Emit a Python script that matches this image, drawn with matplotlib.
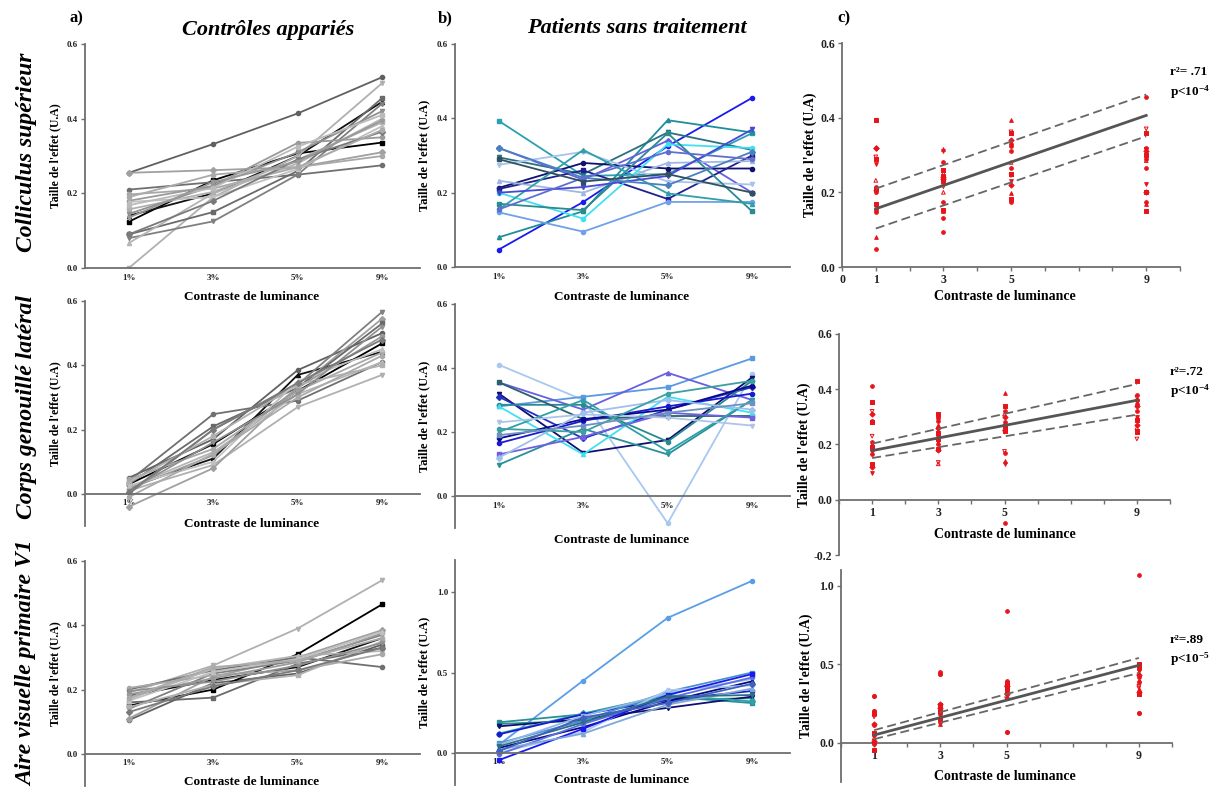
import matplotlib
matplotlib.use('Agg')
import matplotlib.pyplot as plt
from matplotlib.ticker import MultipleLocator

plt.rcParams['font.family'] = ['Liberation Serif', 'DejaVu Serif']
plt.rcParams['font.weight'] = 'bold'
plt.rcParams['mathtext.fontset'] = 'custom'
plt.rcParams['mathtext.rm'] = 'Liberation Serif:bold'
plt.rcParams['mathtext.it'] = 'Liberation Serif:bold'

# ── DATA ─────────────────────────────────────────────
contrasts = ['1%', '3%', '5%', '9%']
contrast_num = [1, 3, 5, 9]

# controls, colliculus (one row per subject: 1%, 3%, 5%, 9%)
ctrl_sc = [
    [0.255, 0.332, 0.414, 0.511],
    [0.124, 0.235, 0.307, 0.336],
    [0.140, 0.200, 0.300, 0.445],
    [0.000, 0.190, 0.300, 0.495],
    [0.255, 0.262, 0.270, 0.310],
    [0.210, 0.230, 0.250, 0.275],
    [0.090, 0.150, 0.260, 0.455],
    [0.080, 0.125, 0.250, 0.440],
    [0.067, 0.200, 0.280, 0.400],
    [0.197, 0.213, 0.270, 0.300],
    [0.180, 0.220, 0.335, 0.350],
    [0.157, 0.204, 0.290, 0.390],
    [0.177, 0.190, 0.265, 0.380],
    [0.145, 0.220, 0.310, 0.420],
    [0.090, 0.180, 0.290, 0.365],
    [0.190, 0.250, 0.270, 0.370],
    [0.168, 0.215, 0.325, 0.410],
    [0.135, 0.230, 0.285, 0.395],
]
ctrl_cgl = [
    [0.050, 0.170, 0.385, 0.500],
    [0.030, 0.155, 0.320, 0.468],
    [0.020, 0.110, 0.370, 0.442],
    [0.010, 0.090, 0.270, 0.370],
    [-0.040, 0.080, 0.330, 0.545],
    [0.040, 0.248, 0.290, 0.410],
    [0.030, 0.210, 0.330, 0.530],
    [0.000, 0.200, 0.340, 0.566],
    [0.020, 0.130, 0.310, 0.410],
    [0.045, 0.140, 0.320, 0.440],
    [0.015, 0.120, 0.330, 0.490],
    [0.035, 0.180, 0.340, 0.400],
    [0.025, 0.100, 0.350, 0.450],
    [0.010, 0.160, 0.310, 0.520],
    [0.005, 0.200, 0.345, 0.480],
    [-0.010, 0.125, 0.300, 0.430],
]
ctrl_v1 = [
    [0.105, 0.220, 0.250, 0.340],
    [0.150, 0.200, 0.310, 0.465],
    [0.180, 0.230, 0.270, 0.360],
    [0.190, 0.275, 0.390, 0.540],
    [0.110, 0.240, 0.300, 0.385],
    [0.200, 0.260, 0.300, 0.270],
    [0.160, 0.175, 0.280, 0.330],
    [0.140, 0.250, 0.290, 0.370],
    [0.170, 0.265, 0.305, 0.320],
    [0.205, 0.245, 0.260, 0.310],
    [0.185, 0.235, 0.285, 0.375],
    [0.145, 0.215, 0.245, 0.350],
    [0.165, 0.255, 0.295, 0.380],
    [0.195, 0.225, 0.275, 0.345],
    [0.130, 0.210, 0.260, 0.330],
    [0.175, 0.270, 0.290, 0.360],
]

# untreated patients
pat_sc = [
    [0.047, 0.175, 0.325, 0.455],
    [0.393, 0.245, 0.250, 0.360],
    [0.080, 0.150, 0.395, 0.362],
    [0.295, 0.250, 0.362, 0.315],
    [0.320, 0.235, 0.340, 0.200],
    [0.213, 0.280, 0.265, 0.265],
    [0.210, 0.260, 0.183, 0.300],
    [0.275, 0.310, 0.230, 0.222],
    [0.232, 0.200, 0.280, 0.285],
    [0.200, 0.130, 0.330, 0.320],
    [0.147, 0.095, 0.175, 0.175],
    [0.170, 0.153, 0.360, 0.150],
    [0.155, 0.315, 0.198, 0.170],
    [0.200, 0.215, 0.245, 0.370],
    [0.320, 0.240, 0.220, 0.310],
    [0.155, 0.240, 0.310, 0.290],
    [0.290, 0.230, 0.250, 0.200],
]
pat_cgl = [
    [0.410, 0.300, -0.085, 0.380],
    [0.280, 0.310, 0.340, 0.430],
    [0.355, 0.270, 0.385, 0.300],
    [0.320, 0.135, 0.175, 0.370],
    [0.310, 0.180, 0.270, 0.340],
    [0.285, 0.285, 0.170, 0.360],
    [0.355, 0.240, 0.250, 0.250],
    [0.098, 0.210, 0.130, 0.300],
    [0.280, 0.130, 0.310, 0.260],
    [0.165, 0.235, 0.280, 0.320],
    [0.180, 0.240, 0.270, 0.345],
    [0.130, 0.185, 0.260, 0.245],
    [0.200, 0.300, 0.140, 0.300],
    [0.230, 0.255, 0.245, 0.220],
    [0.120, 0.260, 0.300, 0.270],
    [0.210, 0.200, 0.320, 0.360],
    [0.190, 0.220, 0.260, 0.290],
]
pat_v1 = [
    [0.050, 0.450, 0.840, 1.070],
    [0.190, 0.240, 0.350, 0.310],
    [0.180, 0.200, 0.330, 0.340],
    [0.165, 0.210, 0.280, 0.350],
    [0.120, 0.245, 0.360, 0.320],
    [0.115, 0.240, 0.330, 0.385],
    [0.060, 0.200, 0.380, 0.500],
    [0.050, 0.230, 0.370, 0.460],
    [0.030, 0.160, 0.320, 0.445],
    [0.000, 0.130, 0.390, 0.420],
    [-0.010, 0.180, 0.340, 0.470],
    [-0.045, 0.150, 0.360, 0.490],
    [0.020, 0.120, 0.300, 0.400],
    [0.040, 0.190, 0.350, 0.360],
    [0.010, 0.220, 0.310, 0.430],
]
# extra points seen only in the V1 regression panel
v1_extra_x = [1, 1, 3, 5, 9]
v1_extra_y = [0.300, 0.200, 0.440, 0.070, 0.190]

# regression fits (value at x=1 and x=9)
fit_sc = [0.156, 0.406]
ci_hi_sc = [0.210, 0.462]
ci_lo_sc = [0.103, 0.350]
fit_cgl = [0.178, 0.360]
ci_hi_cgl = [0.203, 0.419]
ci_lo_cgl = [0.151, 0.308]
fit_v1 = [0.049, 0.493]
ci_hi_v1 = [0.080, 0.540]
ci_lo_v1 = [0.023, 0.444]

stats_text = [('r²= .71', r'p<10$^{-4}$'), ('r²=.72', r'p<10$^{-4}$'), ('r²=.89', r'p<10$^{-5}$')]
row_titles = ['Colliculus supérieur', 'Corps genouillé latéral', 'Aire visuelle primaire V1']

greys = ['#606060', '#000000', '#111111', '#b0b0b0', '#a0a0a0', '#707070', '#6a6a6a',
         '#808080', '#b5b5b5', '#a8a8a8', '#9a9a9a', '#b0b0b0', '#c0c0c0', '#909090',
         '#7a7a7a', '#aaaaaa', '#bbbbbb', '#999999']
blues_sc = ['#1a1aee', '#2aa0b0', '#1e8f9a', '#2a7080', '#6a5fe0', '#101070', '#202090',
            '#a8c4ec', '#9fb8e0', '#40e0f0', '#6fa0e8', '#2a8a90', '#30a0a8', '#4848d8',
            '#4a80c0', '#5f6fd0', '#305060']
blues_cgl = ['#a8c8f0', '#5a9ae0', '#6a5fe0', '#101070', '#2030c0', '#2a8a90', '#2a6070',
             '#2a9098', '#40e0f0', '#1a1ad0', '#0a0a90', '#7060e0', '#30a0a8', '#b0c4e8',
             '#9fc0ec', '#3aa0a0', '#7090c0']
blues_v1 = ['#5a9ee8', '#2a9098', '#2a8a90', '#101070', '#30a0a8', '#1a1ad0', '#4a90d0',
            '#8fb8e8', '#0a0a80', '#a8c8f0', '#6070e0', '#1a1aee', '#7fa8d8', '#2a7080',
            '#4060c0']
markers = ['o', 's', '^', 'v', 'D', 'o', 's', 'v', '^', 'o']

# ── LAYOUT ───────────────────────────────────────────
W, H = 1217, 791
fig = plt.figure(figsize=(W / 100, H / 100), dpi=100)


def box(l, t, r, b):
    return [l / W, 1 - b / H, (r - l) / W, (b - t) / H]


def ftext(x, y, s, **kw):
    fig.text(x / W, 1 - y / H, s, **kw)


SPINE = '#6e6e6e'


def style(ax, tick_fs):
    for side in ['top', 'right']:
        ax.spines[side].set_visible(False)
    for side in ['left', 'bottom']:
        ax.spines[side].set_color(SPINE)
        ax.spines[side].set_linewidth(1.3)
    ax.spines['bottom'].set_position(('data', 0))
    ax.tick_params(colors=SPINE, width=1.0, length=3, labelsize=tick_fs, labelcolor='#222222', pad=2)
    ax.patch.set_alpha(0)


def line_panel(ax, data, colors, ylim, yticks, fmt):
    for i, row in enumerate(data):
        ax.plot(range(4), row, color=colors[i % len(colors)], lw=1.3,
                marker=markers[i % len(markers)], ms=3)
    ax.set_xlim(-0.52, 3.45)
    ax.set_ylim(*ylim)
    ax.set_xticks(range(4))
    ax.set_xticklabels(contrasts)
    ax.set_yticks(yticks)
    ax.set_yticklabels([fmt.format(v) for v in yticks])
    style(ax, 6.5)
    ax.tick_params(axis='x', length=0, pad=4)


def reg_panel(ax, data, fit, hi, lo, ylim, yticks, xticks, extra=None):
    for i, row in enumerate(data):
        m = markers[i % len(markers)]
        hollow = i % 5 == 3
        ax.scatter(contrast_num, row, s=7, marker=m,
                   facecolors='none' if hollow else '#e8141a',
                   edgecolors='#e8141a', linewidths=0.7, zorder=3)
    if extra is not None:
        ax.scatter(extra[0], extra[1], s=7, marker='o', color='#e8141a', zorder=3)
    ends = [1, 9]
    ax.plot(ends, fit, color='#555555', lw=2.0, zorder=4)
    ax.plot(ends, hi, color='#666666', lw=1.3, ls=(0, (5, 2.5)), zorder=4)
    ax.plot(ends, lo, color='#666666', lw=1.3, ls=(0, (5, 2.5)), zorder=4)
    ax.set_xlim(0, 10)
    ax.set_ylim(*ylim)
    ax.set_xticks(xticks)
    ax.xaxis.set_minor_locator(MultipleLocator(1))
    ax.set_yticks(yticks)
    ax.set_yticklabels(['{:.1f}'.format(v) for v in yticks])
    style(ax, 8.5)
    ax.tick_params(axis='x', which='minor', length=3, color=SPINE, width=1.0)


# column a: controls
ax_a1 = fig.add_axes(box(85, 44, 420, 268))
line_panel(ax_a1, ctrl_sc, greys, (0, 0.6), [0.0, 0.2, 0.4, 0.6], '{:.1f}')
ax_a2 = fig.add_axes(box(85, 301, 420, 526))
line_panel(ax_a2, ctrl_cgl, greys, (-0.1, 0.6), [0.0, 0.2, 0.4, 0.6], '{:.1f}')
ax_a3 = fig.add_axes(box(85, 561, 420, 786))
line_panel(ax_a3, ctrl_v1, greys, (-0.1, 0.6), [0.0, 0.2, 0.4, 0.6], '{:.1f}')

# column b: untreated patients
ax_b1 = fig.add_axes(box(455, 44, 790, 267))
line_panel(ax_b1, pat_sc, blues_sc, (0, 0.6), [0.0, 0.2, 0.4, 0.6], '{:.1f}')
ax_b2 = fig.add_axes(box(455, 304, 790, 528))
line_panel(ax_b2, pat_cgl, blues_cgl, (-0.1, 0.6), [0.0, 0.2, 0.4, 0.6], '{:.1f}')
ax_b3 = fig.add_axes(box(455, 560, 790, 785))
line_panel(ax_b3, pat_v1, blues_v1, (-0.2, 1.2), [0.0, 0.5, 1.0], '{:.1f}')

# column c: regressions
ax_c1 = fig.add_axes(box(842, 43, 1180, 267))
reg_panel(ax_c1, pat_sc, fit_sc, ci_hi_sc, ci_lo_sc, (0, 0.6), [0.0, 0.2, 0.4, 0.6], [0, 1, 3, 5, 9])
ax_c2 = fig.add_axes(box(839, 334, 1170, 555))
reg_panel(ax_c2, pat_cgl, fit_cgl, ci_hi_cgl, ci_lo_cgl, (-0.2, 0.6), [-0.2, 0.0, 0.2, 0.4, 0.6], [1, 3, 5, 9])
ax_c3 = fig.add_axes(box(841, 570, 1172, 782))
reg_panel(ax_c3, pat_v1, fit_v1, ci_hi_v1, ci_lo_v1, (-0.25, 1.1), [0.0, 0.5, 1.0], [1, 3, 5, 9],
          extra=(v1_extra_x, v1_extra_y))

# y labels
for ax, fs, xoff in [(ax_a1, 8.5, -0.07), (ax_a2, 8.5, -0.07), (ax_a3, 8.5, -0.07),
                     (ax_b1, 9, -0.075), (ax_b2, 9, -0.075), (ax_b3, 9, -0.075),
                     (ax_c1, 10, -0.075), (ax_c2, 10, -0.085), (ax_c3, 10, -0.085)]:
    ax.set_ylabel("Taille de l'effet (U.A)", fontsize=fs, fontweight='bold')
    ax.yaxis.set_label_coords(xoff, 0.5)

# x labels
xl_pos = [(252, 297), (622, 297), (1005, 297),
          (252, 524), (622, 540), (1005, 535),
          (252, 782), (622, 780), (1005, 776)]
for (x, y) in xl_pos:
    fs = 10 if x > 900 else 9.5
    ftext(x, y, 'Contraste de luminance', fontsize=fs, fontweight='bold', ha='center', va='center')

# regression stats
for (t1, t2), (y1, y2) in zip(stats_text, [(72, 92), (372, 391), (640, 659)]):
    ftext(1170, y1, t1, fontsize=9.5, fontweight='bold', va='center')
    ftext(1170, y2, t2, fontsize=9.5, fontweight='bold', va='center')

# row / column titles
for title, yc in zip(row_titles, [152, 407, 663]):
    ftext(27, yc, title, fontsize=17, fontweight='bold', style='italic',
          rotation=90, ha='center', va='center')
ftext(268, 30, 'Contrôles appariés', fontsize=16, fontweight='bold', style='italic', ha='center', va='center')
ftext(637, 28, 'Patients sans traitement', fontsize=16, fontweight='bold', style='italic', ha='center', va='center')
ftext(76, 18, 'a)', fontsize=12, fontweight='bold', ha='center', va='center')
ftext(445, 18, 'b)', fontsize=12, fontweight='bold', ha='center', va='center')
ftext(844, 18, 'c)', fontsize=12, fontweight='bold', ha='center', va='center')

fig.savefig('out.png', dpi=100, facecolor='white')
